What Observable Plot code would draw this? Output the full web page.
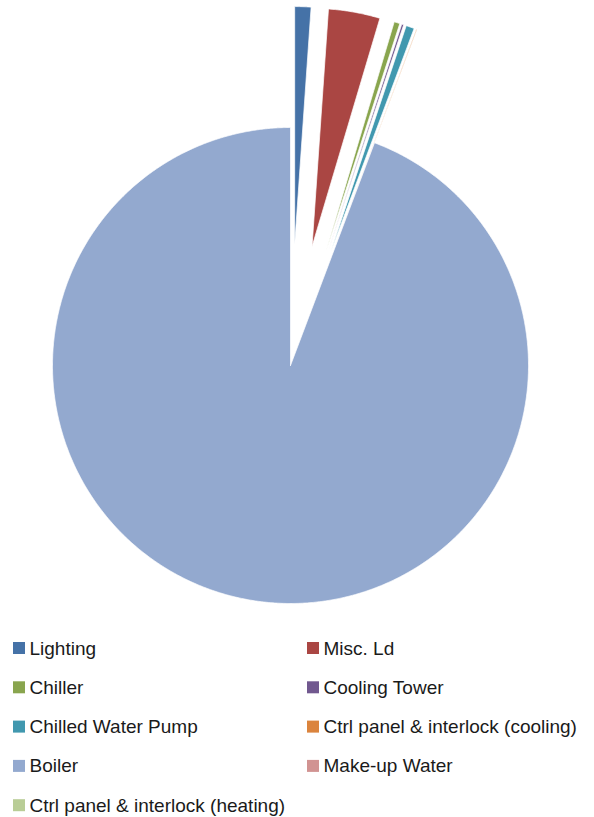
<!DOCTYPE html>
<html><head><meta charset="utf-8">
<script src="https://cdn.jsdelivr.net/npm/d3@7"></script>
<script src="https://cdn.jsdelivr.net/npm/@observablehq/plot@0.6"></script>
<style>html,body{margin:0;padding:0;background:#fff}</style>
</head><body><div id="chart"></div>
<script>
const categories = ["Lighting", "Misc. Ld", "Chiller", "Cooling Tower", "Chilled Water Pump",
  "Ctrl panel & interlock (cooling)", "Boiler", "Make-up Water", "Ctrl panel & interlock (heating)"];
const values = [1.1, 3.5, 0.39, 0.14, 0.56, 0.05, 94.26, 0, 0];
const colors = ["#4572A7", "#AA4643", "#89A54E", "#71588F", "#4198AF",
  "#DB843D", "#93A9CF", "#D19392", "#B9CD96"];
const exploded = [true, true, true, true, true, true, false, true, true];

const W = 594, H = 817;
const cx = 290, cy = 365, R = 238, explode = 121;

const data = categories.map((name, i) => ({name, value: values[i], exploded: exploded[i]}));
const arcs = d3.pie().sort(null).value(d => d.value).startAngle(0).endAngle(2 * Math.PI)(data);

const pts = [];
arcs.forEach(a => {
  const s = a.startAngle, e = a.endAngle;
  if (e - s <= 0) return;
  const mid = (s + e) / 2;
  const off = a.data.exploded ? explode : 0;
  const ox = cx + off * Math.sin(mid), oy = cy - off * Math.cos(mid);
  const name = a.data.name;
  pts.push({name, x: ox, y: oy});
  const n = Math.max(2, Math.ceil((e - s) / 0.005));
  for (let k = 0; k <= n; k++) {
    const t = s + (e - s) * k / n;
    pts.push({name, x: ox + R * Math.sin(t), y: oy - R * Math.cos(t)});
  }
  pts.push({name, x: ox, y: oy});
});

const legX = [13, 307], legY0 = 648, legDY = 39.3, sq = 12;
const legend = categories.map((name, i) => {
  const col = i % 2, row = Math.floor(i / 2);
  const y = legY0 + row * legDY;
  return {name, x1: legX[col], x2: legX[col] + sq, y1: y - sq / 2, y2: y + sq / 2, tx: legX[col] + 16, ty: y};
});

const chart = Plot.plot({
  width: W, height: H, margin: 0,
  x: {domain: [0, W], range: [0, W], axis: null},
  y: {domain: [0, H], range: [0, H], axis: null},
  color: {domain: categories, range: colors},
  style: {fontFamily: "Liberation Sans", background: "#fff"},
  marks: [
    Plot.line(pts, {x: "x", y: "y", z: "name", fill: "name", stroke: "white", strokeWidth: 0.7, curve: "linear"}),
    Plot.rect(legend, {x1: "x1", x2: "x2", y1: "y1", y2: "y2", fill: "name"}),
    Plot.text(legend, {x: "tx", y: "ty", text: "name", textAnchor: "start", fontSize: 19, fill: "#1a1a1a"})
  ]
});
document.getElementById("chart").appendChild(chart);
</script>
</body></html>
